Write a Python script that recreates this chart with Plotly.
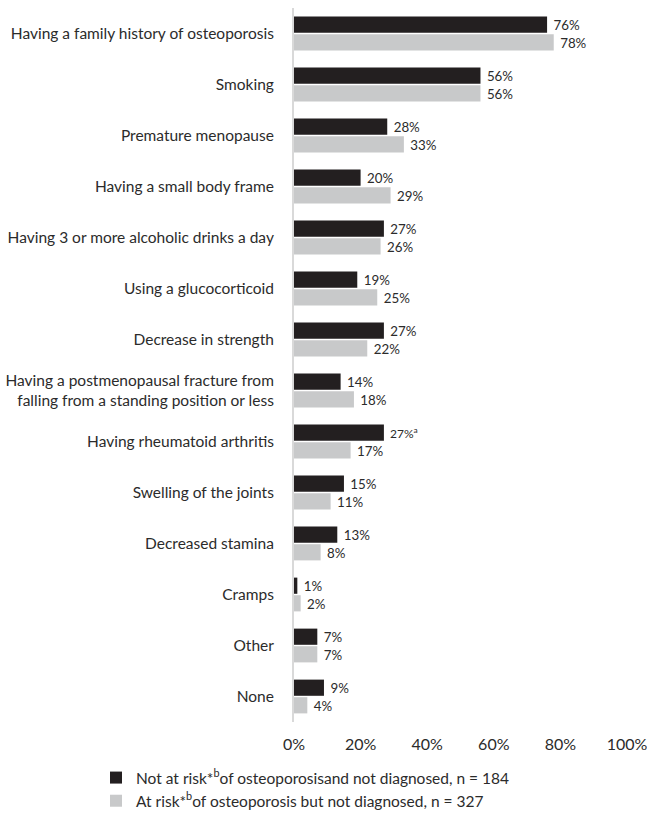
import plotly.graph_objects as go

categories = [
    "Having a family history of osteoporosis",
    "Smoking",
    "Premature menopause",
    "Having a small body frame",
    "Having 3 or more alcoholic drinks a day",
    "Using a glucocorticoid",
    "Decrease in strength",
    "Having a postmenopausal fracture from<br>falling from a standing position or less",
    "Having rheumatoid arthritis",
    "Swelling of the joints",
    "Decreased stamina",
    "Cramps",
    "Other",
    "None",
]
not_at_risk = [76, 56, 28, 20, 27, 19, 27, 14, 27, 15, 13, 1, 7, 9]
at_risk = [78, 56, 33, 29, 26, 25, 22, 18, 17, 11, 8, 2, 7, 4]
footnotes_not_at_risk = ["", "", "", "", "", "", "", "", "a", "", "", "", "", ""]

series_names = [
    "Not at risk*<sup>b</sup>of osteoporosisand not diagnosed, n = 184",
    "At risk*<sup>b</sup>of osteoporosis but not diagnosed, n = 327",
]
x_ticks = [0, 20, 40, 60, 80, 100]

FONT = "Lato, Calibri, Carlito, sans-serif"
TEXT_COLOR = "#2b2b2b"


def label(v, note=""):
    s = "\u00a0" + f"{v}%"
    if note:
        s += f"<sup>{note}</sup>"
    return s


fig = go.Figure()
fig.add_trace(go.Bar(
    y=categories, x=not_at_risk, orientation="h",
    name=series_names[0], legendgroup="g1",
    marker=dict(color="#231f20", line=dict(width=0)),
    text=[label(v, n) for v, n in zip(not_at_risk, footnotes_not_at_risk)],
    textposition="outside", cliponaxis=False,
    textfont=dict(family=FONT, size=14, color=TEXT_COLOR),
))
fig.add_trace(go.Bar(
    y=categories, x=at_risk, orientation="h",
    name=series_names[1], legendgroup="g2",
    marker=dict(color="#c8c9ca", line=dict(width=0)),
    text=[label(v) for v in at_risk],
    textposition="outside", cliponaxis=False,
    textfont=dict(family=FONT, size=14, color=TEXT_COLOR),
))

fig.update_layout(
    width=647, height=816,
    margin=dict(l=294, r=20, t=8, b=94, autoexpand=False),
    paper_bgcolor="white", plot_bgcolor="white",
    barmode="group", bargap=0.31, bargroupgap=0.08,
    font=dict(family=FONT, size=15.5, color=TEXT_COLOR),
    xaxis=dict(
        range=[0, 100], tickvals=x_ticks,
        ticktext=[f"{t}%" for t in x_ticks],
        showgrid=False, zeroline=False, showline=False,
        ticks="", ticklabelstandoff=11, automargin=False,
        tickangle=0, ticklabeloverflow="allow",
        tickfont=dict(family=FONT, size=16, color=TEXT_COLOR),
    ),
    yaxis=dict(
        autorange="reversed", showgrid=False, zeroline=False,
        showline=True, linecolor="#d9d9d9", linewidth=2,
        ticks="", ticklabelstandoff=15, automargin=False,
        tickfont=dict(family=FONT, size=15.5, color=TEXT_COLOR),
    ),
    legend=dict(
        xref="container", yref="container",
        x=96 / 647, y=1 - 761 / 816, xanchor="left", yanchor="top",
        traceorder="normal", tracegroupgap=7,
        itemwidth=30, font=dict(family=FONT, size=15.5, color=TEXT_COLOR),
        bgcolor="rgba(0,0,0,0)",
    ),
    showlegend=True,
)

fig.write_html("out.html")
